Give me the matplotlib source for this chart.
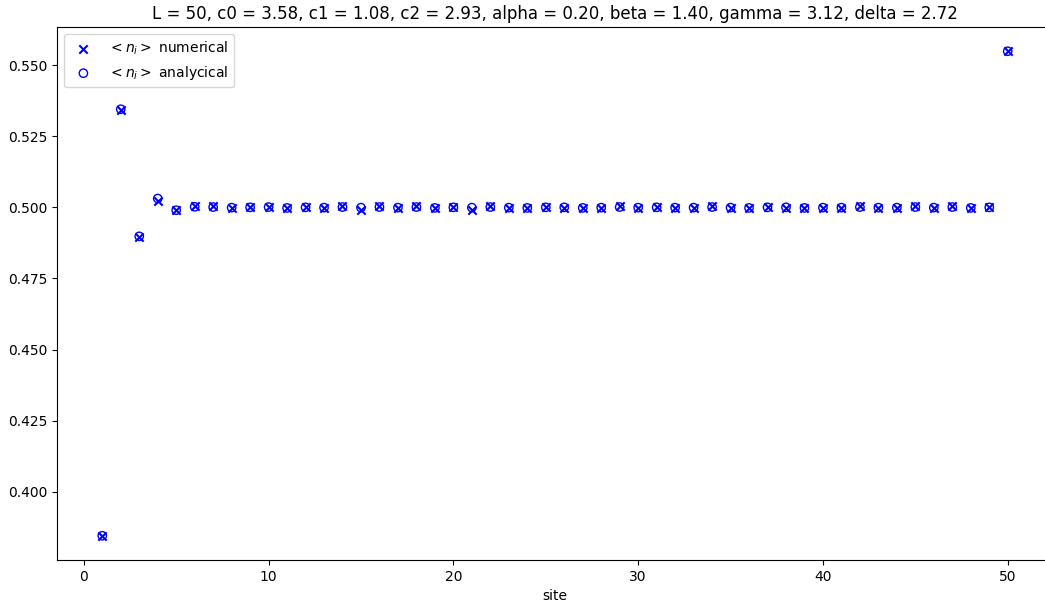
import matplotlib
matplotlib.use('Agg')
import matplotlib.pyplot as plt
import numpy as np

# sites and occupation values
sites = np.arange(1, 51)

n_analytical = [0.3845, 0.5345, 0.4898, 0.5031, 0.4990, 0.5002, 0.5001, 0.4999, 0.5000, 0.5001,
                0.4998, 0.5000, 0.4999, 0.5001, 0.4999, 0.5001, 0.4999, 0.5001, 0.4998, 0.5000,
                0.4999, 0.5001, 0.4999, 0.4998, 0.5000, 0.5000, 0.4998, 0.4999, 0.5001, 0.4999,
                0.5000, 0.4999, 0.4999, 0.5001, 0.4999, 0.4998, 0.5000, 0.5000, 0.4998, 0.4999,
                0.4999, 0.5001, 0.4999, 0.4999, 0.5001, 0.4999, 0.5001, 0.4998, 0.5000, 0.5549]

n_numerical = [0.3845, 0.5342, 0.4896, 0.5021, 0.4989, 0.5004, 0.5003, 0.4999, 0.5000, 0.5002,
               0.4997, 0.5000, 0.4998, 0.5004, 0.4991, 0.5004, 0.4998, 0.5004, 0.4997, 0.5000,
               0.4991, 0.5004, 0.4998, 0.4997, 0.5000, 0.4999, 0.4997, 0.4998, 0.5004, 0.4999,
               0.5000, 0.4998, 0.4998, 0.5004, 0.4998, 0.4997, 0.5000, 0.4999, 0.4997, 0.4998,
               0.4998, 0.5004, 0.4999, 0.4998, 0.5004, 0.4999, 0.5004, 0.4997, 0.5000, 0.5549]

title = 'L = 50, c0 = 3.58, c1 = 1.08, c2 = 2.93, alpha = 0.20, beta = 1.40, gamma = 3.12, delta = 2.72'

fig = plt.figure(figsize=(10.45, 6.03), dpi=100)
# axes runs a little past the right edge, as in the reference
ax = fig.add_axes([57 / 1045, 43 / 603, 996 / 1045, 533 / 603])

ax.scatter(sites, n_numerical, marker='x', color='b', label=r'$<n_i>$ numerical')
ax.scatter(sites, n_analytical, marker='o', facecolors='none', edgecolors='b', label=r'$<n_i>$ analycical')

ax.set_xlabel('site')
ax.set_title(title)
ax.legend(loc='upper left')

fig.savefig('out.png', dpi=100)
